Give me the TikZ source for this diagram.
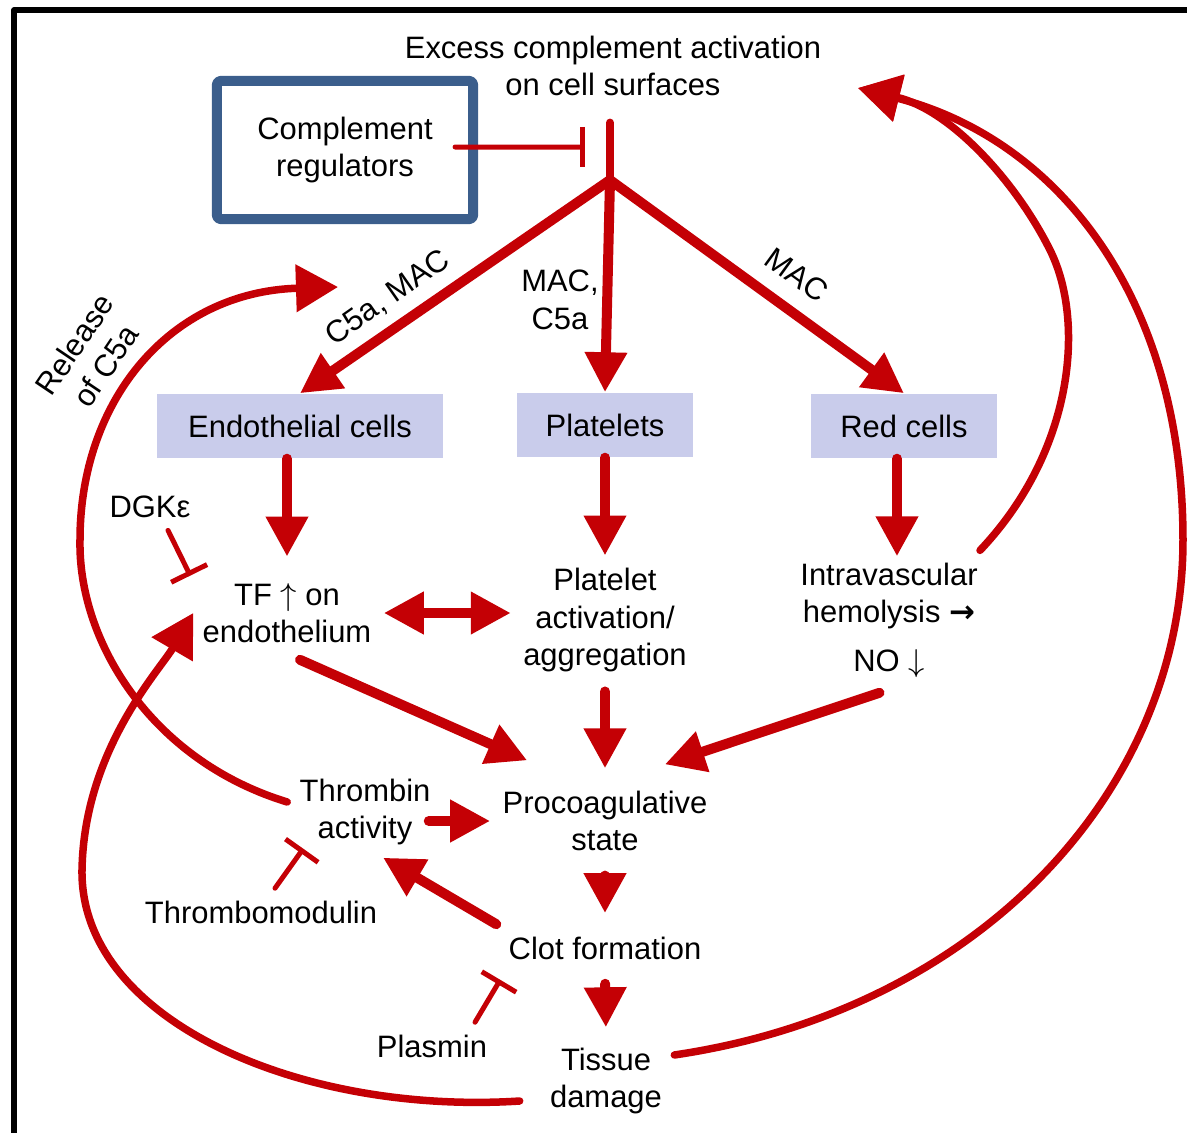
\documentclass[tikz,border=0pt]{standalone}
\usepackage{fontspec}
\setmainfont{Liberation Sans}
\newfontfamily\symfont{DejaVu Sans}
\usepackage{tikz}
\usetikzlibrary{arrows.meta}
\definecolor{ccqqqq}{rgb}{0.77,0,0.02}
\definecolor{ccccff}{rgb}{0.79,0.8,0.92}
\definecolor{zzttbb}{rgb}{0.23,0.37,0.55}

\begin{document}
\begin{tikzpicture}[line cap=round,line join=round,x=0.01cm,y=-0.01cm,
	font=\fontsize{8.8}{10.7}\selectfont,
	txt/.style={align=center},
	cellbox/.style={fill=ccccff,minimum height=0.64cm},
	flow/.style={color=ccqqqq,line width=1mm,-{Triangle[width=4mm,length=4mm]}},
	twoway/.style={color=ccqqqq,line width=1mm,{Triangle[width=4mm,length=4mm]}-{Triangle[width=4mm,length=4mm]}},
	feedback/.style={color=ccqqqq,line width=0.75mm,-{Triangle[width=4.6mm,length=4.2mm]}},
	inhib/.style={color=ccqqqq,line width=0.5mm,-{Bar[width=4mm]}}]
	\useasboundingbox (0,0) rectangle (1187,1133);
	\clip (0,0) rectangle (1187,1133);
	\draw[line width=0.55mm] (14,1200) -- (14,10) -- (1250,10);
	\node[txt] (excess) at (613,66) {Excess complement activation\\on cell surfaces};
	\node[txt,draw=zzttbb,line width=1mm,rounded corners=1pt,minimum width=2.56cm,minimum height=1.38cm] (regbox) at (345,150) {Complement\\regulators};
	\node[cellbox,minimum width=2.86cm] (endo) at (300,426) {Endothelial cells};
	\node[cellbox,minimum width=1.75cm] (plat) at (605,425) {Platelets};
	\node[cellbox,minimum width=1.85cm] (red) at (904,426) {Red cells};
	\node (dgk) at (150,507) {DGKε};
	\node[txt] (tf) at (287,613) {TF $\uparrow$ on\\endothelium};
	\node[txt] (pltact) at (605,620) {Platelet\\activation/\\aggregation};
	\node[txt] (hemo) at (889,620) {Intravascular\\hemolysis {\symfont\bfseries →}\\[3pt]NO $\downarrow$};
	\node[txt] (thr) at (365,812) {Thrombin\\activity};
	\node[txt] (procoag) at (605,821) {Procoagulative\\state};
	\node (tmod) at (261,912) {Thrombomodulin};
	\node (clot) at (605,948) {Clot formation};
	\node (plasmin) at (432,1046) {Plasmin};
	\node[txt] (tissue) at (606,1081) {Tissue\\damage};
	\node[txt,rotate=56] (relc5a) at (90,355) {Release\\of C5a};
	\node[rotate=35] (lblendo) at (388,298) {C5a, MAC};
	\node[txt] (lblplat) at (560,300) {MAC,\\C5a};
	\node[rotate=-36] (lblred) at (797,275) {MAC};
	\coordinate (junc) at (610,180);
	\coordinate (regbar) at (585,147);
	\coordinate (c5atip) at (338,287);
	\coordinate (exctip) at (858,88);
	\draw[color=ccqqqq,line width=0.8mm] ([yshift=-0.14cm]excess.south -| junc) -- (junc);
	\draw[inhib] ([shift={(-0.23cm,0.03cm)}]regbox.east) -- (regbar);
	\draw[flow] (junc) -- (endo.north);
	\draw[flow] (junc) -- (plat.north);
	\draw[flow] (junc) -- (red.north);
	\draw[flow,shorten >=0.14cm] (endo.south -| tf) -- (tf.north);
	\draw[flow] (plat.south) -- (pltact.north);
	\draw[flow,shorten >=-0.06cm] ([xshift=-0.07cm]red.south) -- ([xshift=-0.07cm]red.south |- hemo.north);
	\draw[twoway] (tf.east) -- (tf.east -| pltact.west);
	\draw[flow,shorten <=0.11cm] ([xshift=0.03cm]tf.south) -- ([shift={(0.37cm,0.18cm)}]procoag.north west);
	\draw[flow,shorten <=0.07cm,shorten >=0.1cm] (pltact.south) -- (procoag.north);
	\draw[flow,shorten <=0.1cm] (hemo.south) -- ([shift={(-0.55cm,0.14cm)}]procoag.north east);
	\draw[flow] ([xshift=-0.14cm]thr.east |- procoag.west) -- (procoag.west);
	\draw[flow,shorten <=0.12cm,shorten >=0.11cm] (procoag.south) -- (clot.north);
	\draw[flow,shorten <=0.12cm,shorten >=0.08cm] (clot.south) -- (tissue.north);
	\draw[flow] (clot.north west) -- ([xshift=0.18cm]thr.south);
	\draw[inhib] ([xshift=0.18cm]dgk.south) -- ([yshift=-0.05cm]tf.north west);
	\draw[inhib] ([xshift=0.14cm]tmod.north) -- ([shift={(0.16cm,0.09cm)}]thr.south west);
	\draw[inhib] ([xshift=0.43cm]plasmin.north) -- ([shift={(0.04cm,-0.08cm)}]clot.south west);
	\draw[feedback] ([yshift=0.1cm]thr.west) .. controls (150,760) and (78,640) .. (80,540) .. controls (80,400) and (170,292) .. (c5atip);
	\draw[feedback] ([shift={(-0.18cm,-0.2cm)}]tissue.west) .. controls (300,1115) and (80,1020) .. (82,870) .. controls (84,750) and (160,670) .. ([xshift=0.03cm]tf.west);
	\draw[feedback] ([yshift=0.26cm]tissue.east) .. controls (980,1010) and (1183,790) .. (1183,540) .. controls (1183,300) and (1060,140) .. (exctip);
	\draw[feedback] ([xshift=-0.1cm]hemo.north east) .. controls (1075,450) and (1085,320) .. (1050,250) .. controls (1015,180) and (950,110) .. (exctip);
\end{tikzpicture}
\end{document}
